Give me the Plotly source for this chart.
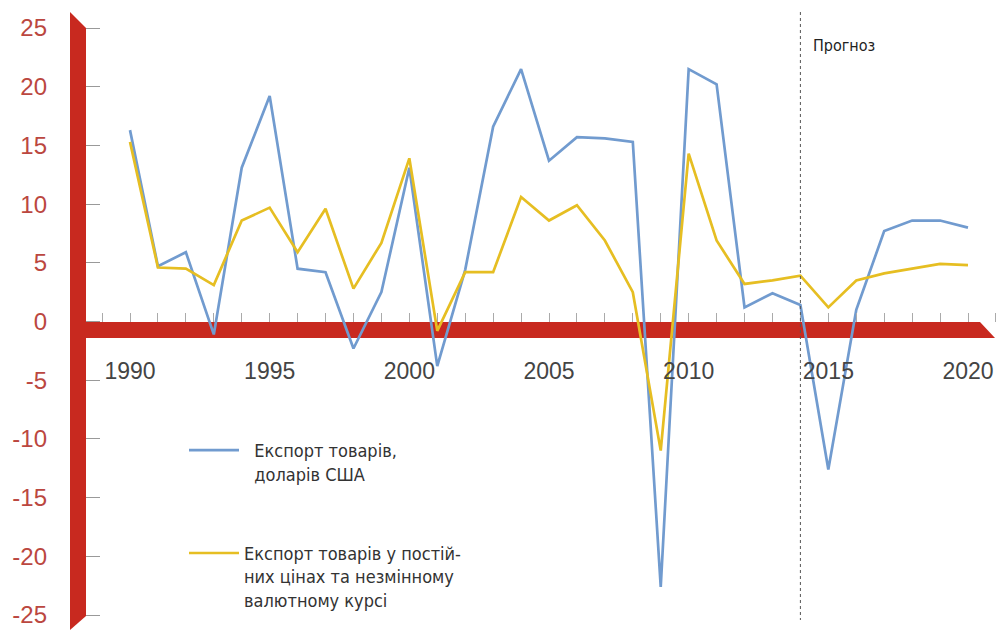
import plotly.graph_objects as go

# ---- data ----
years = [1990, 1991, 1992, 1993, 1994, 1995, 1996, 1997, 1998, 1999,
         2000, 2001, 2002, 2003, 2004, 2005, 2006, 2007, 2008, 2009,
         2010, 2011, 2012, 2013, 2014, 2015, 2016, 2017, 2018, 2019, 2020]
export_usd = [16.3, 4.7, 5.9, -1.1, 13.1, 19.2, 4.5, 4.2, -2.3, 2.5,
              13.1, -3.8, 4.4, 16.6, 21.5, 13.7, 15.7, 15.6, 15.3, -22.6,
              21.5, 20.2, 1.2, 2.4, 1.4, -12.6, 1.0, 7.7, 8.6, 8.6, 8.0]
export_const = [15.3, 4.6, 4.5, 3.1, 8.6, 9.7, 5.9, 9.6, 2.8, 6.7,
                13.9, -0.8, 4.2, 4.2, 10.6, 8.6, 9.9, 6.9, 2.5, -11.0,
                14.3, 6.9, 3.2, 3.5, 3.9, 1.2, 3.5, 4.1, 4.5, 4.9, 4.8]
name_usd = "&nbsp;&nbsp;Експорт товарів,<br>&nbsp;&nbsp;доларів США"
name_const = "Експорт товарів у постій-<br>них цінах та незмінному<br>валютному курсі"
forecast_year = 2014
forecast_label = "Прогноз"
x_tick_vals = [1990, 1995, 2000, 2005, 2010, 2015, 2020]
x_tick_text = ["1990", "1995", "2000", "2005", "2010", "2015", "2020"]
y_tick_vals = [-25, -20, -15, -10, -5, 0, 5, 10, 15, 20, 25]
y_tick_text = ["-25", "-20", "-15", "-10", "-5", "0", "5", "10", "15", "20", "25"]

# ---- geometry (pixels of the 997x631 canvas) ----
W, H = 997, 631
L = 86                      # left edge of plot area
PX_YEAR = (968 - 130) / 30  # px per year
PX_UNIT = 11.74             # px per percentage point
X0_PX, Y0_PX = 130, 321.5   # pixel of 1990 and of zero

def year_at(px):
    return 1990 + (px - X0_PX) / PX_YEAR

def val_at(py):
    return (Y0_PX - py) / PX_UNIT

def paper_x(px):
    return (px - L) / (W - L)

def paper_y(py):
    return (H - py) / H

x_range = [year_at(L), year_at(W)]
y_range = [val_at(H), val_at(0)]

RED = "#c8291f"
BLUE = "#719bcf"
YELLOW = "#e6be22"
FONT = "Liberation Sans"
TEXT_FONT = "DejaVu Sans Condensed, DejaVu Sans"

fig = go.Figure()
fig.add_trace(go.Scatter(x=years, y=export_usd, mode="lines", name=name_usd,
                         legendgroup="a",
                         line=dict(color=BLUE, width=2.7)))
fig.add_trace(go.Scatter(x=years, y=export_const, mode="lines", name=name_const,
                         legendgroup="b",
                         line=dict(color=YELLOW, width=2.7)))

# red vertical axis bar (bevelled ends)
vpath = "M {} {} L {} {} L {} {} L {} {} Z".format(
    paper_x(70), paper_y(12), paper_x(86), paper_y(28),
    paper_x(86), paper_y(616), paper_x(70), paper_y(630))
fig.add_shape(type="path", path=vpath, xref="paper", yref="paper",
              fillcolor=RED, line=dict(width=0), layer="below")
# red horizontal axis bar (bevelled right end)
hpath = "M {} {} L {} {} L {} {} L {} {} Z".format(
    paper_x(70), paper_y(322), paper_x(980), paper_y(322),
    paper_x(995), paper_y(338), paper_x(70), paper_y(338))
fig.add_shape(type="path", path=hpath, xref="paper", yref="paper",
              fillcolor=RED, line=dict(width=0), layer="below")

# forecast divider
fig.add_shape(type="line", x0=forecast_year, x1=forecast_year,
              y0=val_at(12), y1=val_at(620), xref="x", yref="y",
              line=dict(color="#555555", width=1, dash="dot"))
fig.add_annotation(x=year_at(811), y=val_at(45), text=forecast_label,
                   xanchor="left", yanchor="middle", showarrow=False,
                   font=dict(family=TEXT_FONT, size=16, color="#222222"))

zero_pos = (0 - y_range[0]) / (y_range[1] - y_range[0])

fig.update_layout(
    width=W, height=H,
    margin=dict(l=L, r=0, t=0, b=0, autoexpand=False),
    paper_bgcolor="white", plot_bgcolor="rgba(0,0,0,0)",
    font=dict(family=FONT),
    showlegend=True,
    legend=dict(x=paper_x(184), y=paper_y(432), xanchor="left", yanchor="top",
                bgcolor="rgba(0,0,0,0)", borderwidth=0,
                font=dict(family=TEXT_FONT, size=18, color="#333333"),
                tracegroupgap=53, valign="top", itemwidth=50),
    xaxis=dict(range=x_range, anchor="free", position=zero_pos,
               automargin=False,
               showgrid=False, zeroline=False, showline=False,
               tickvals=x_tick_vals, ticktext=x_tick_text,
               ticks="inside", ticklen=9,
               tickcolor="#aaaaaa", tickwidth=1,
               minor=dict(dtick=1, tick0=1990, ticks="inside", ticklen=9,
                          tickcolor="#aaaaaa", tickwidth=1),
               ticklabelstandoff=33,
               tickfont=dict(family=FONT, size=23, color="#444444")),
    yaxis=dict(range=y_range, automargin=False,
               showgrid=False, zeroline=False, showline=False,
               tickvals=y_tick_vals, ticktext=y_tick_text,
               ticks="inside", ticklen=14,
               tickcolor="#999999", tickwidth=1,
               ticklabelstandoff=38,
               tickfont=dict(family=FONT, size=24, color="#bb4740")),
)

fig.write_html("out.html", config={"displayModeBar": False},
               post_script="document.body.style.margin='0';"
                           "document.body.style.overflow='hidden';")
